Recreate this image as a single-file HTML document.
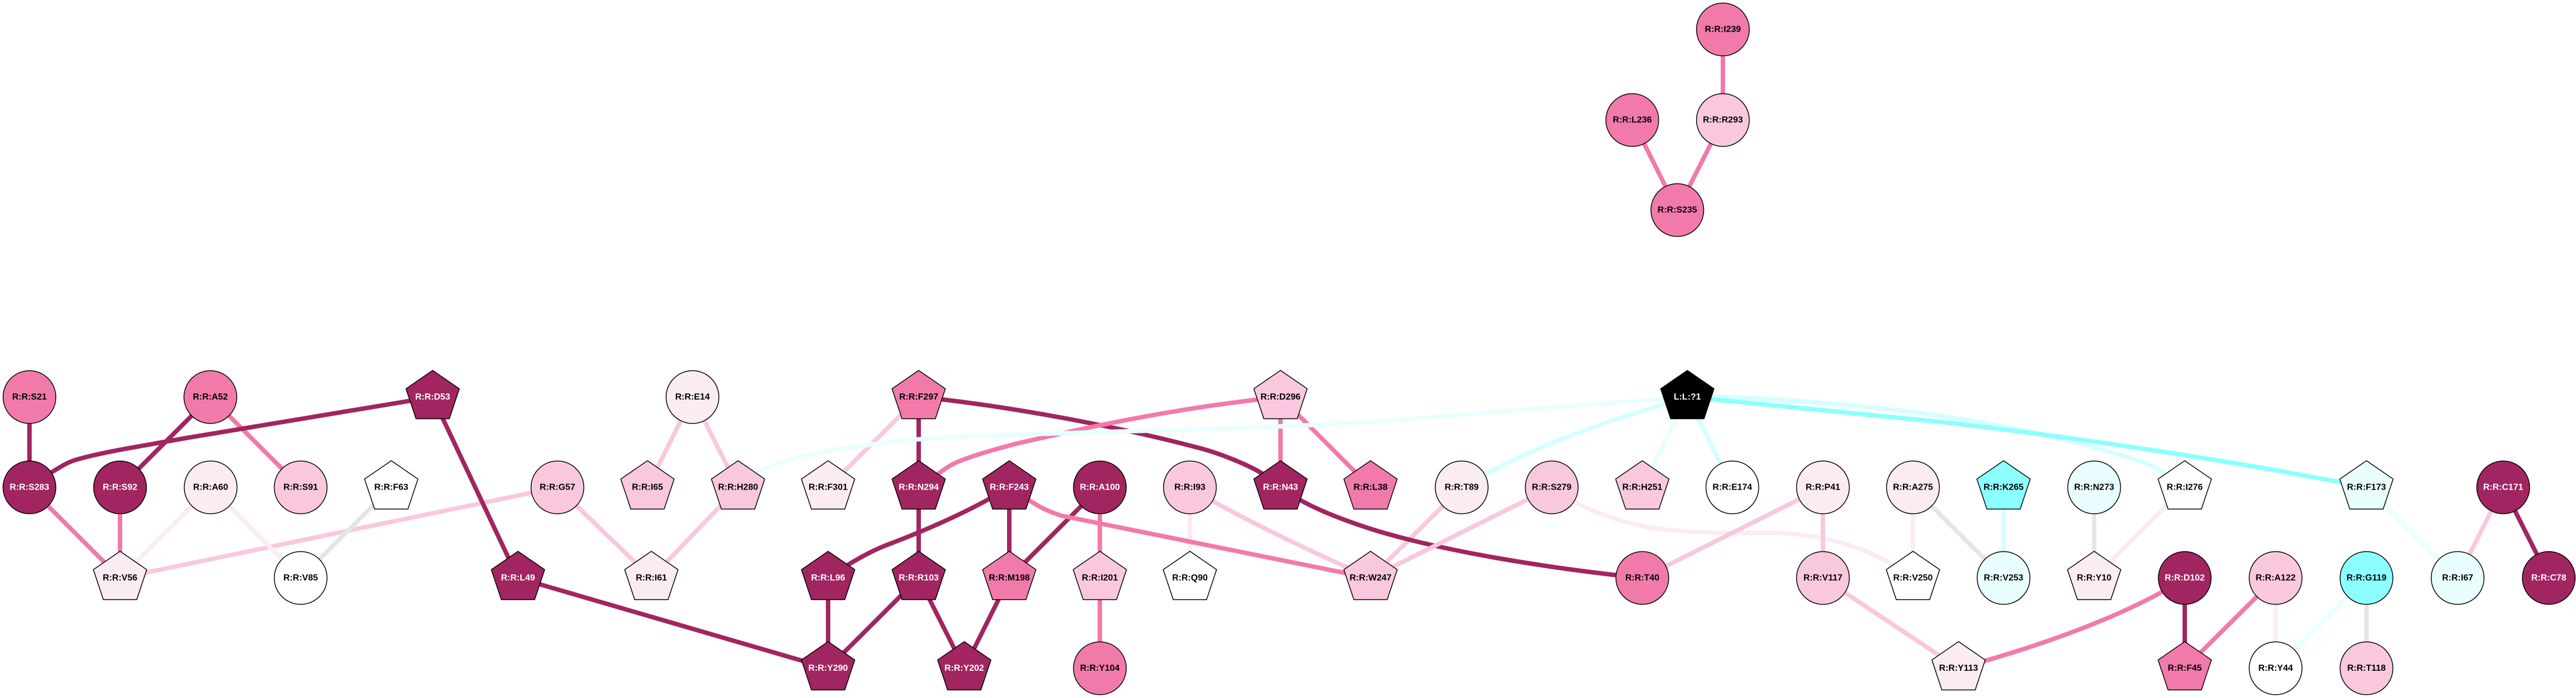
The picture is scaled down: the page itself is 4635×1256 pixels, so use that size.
<!DOCTYPE html>
<html><head><meta charset="utf-8"><title>Interaction network</title>
<style>
html,body{margin:0;padding:0;background:#fff}
svg{display:block}
text{font-family:"Liberation Sans",Arial,sans-serif;font-weight:bold;font-size:16px;text-anchor:middle;fill:#000}
text.w{fill:#fff}
.e path,.e line{fill:none;stroke-width:8;stroke-linejoin:round;stroke-linecap:butt}
.n circle,.n use{stroke:#000;stroke-width:1.5}
.D{fill:#a12560}.M{fill:#f27aab}.L{fill:#f9c8de}.V{fill:#fbebf3}.W{fill:#fff}.C{fill:#8cffff}.A{fill:#e9ffff}.B{fill:#000}
.sD{stroke:#a12560}.sM{stroke:#f27aab}.sL{stroke:#f9c8de}.sV{stroke:#fbebf3}.sG{stroke:#e5e5e5}.sC{stroke:#8cffff}.sA{stroke:#e9ffff}.sE{stroke:#d5ffff}
</style></head><body>
<svg xmlns="http://www.w3.org/2000/svg" width="4635" height="1256" viewBox="0 0 4635 1256">
<defs><polygon id="p" points="0,-48 48,-15 30,39 -30,39 -48,-15"/></defs>
<rect width="4635" height="1256" fill="#fff"/>
<g class="e">
<line class="sL" x1="2630" y1="877" x2="2466" y2="1040"/>
<line class="sL" x1="1003" y1="877" x2="216" y2="1040"/>
<line class="sV" x1="379" y1="877" x2="541" y2="1040"/>
<line class="sV" x1="379" y1="877" x2="216" y2="1040"/>
<line class="sG" x1="704" y1="877" x2="541" y2="1040"/>
<line class="sM" x1="378.5" y1="714.5" x2="541" y2="877"/>
<line class="sD" x1="53" y1="714.5" x2="53" y2="877"/>
<line class="sD" x1="378.5" y1="714.5" x2="216" y2="877"/>
<path class="sD" d="M778,714.5 L330,789 C260,802 190,812 138,827 C120,832 108,841 94,849 L53,877"/>
<line class="sM" x1="53" y1="877" x2="216" y2="1040"/>
<line class="sM" x1="216" y1="877" x2="216" y2="1040"/>
<line class="sD" x1="778.5" y1="714.5" x2="932" y2="1040"/>
<line class="sD" x1="932" y1="1040" x2="1490" y2="1202.5"/>
<line class="sL" x1="1003" y1="877" x2="1172" y2="1040"/>
<line class="sL" x1="1328" y1="877" x2="1172" y2="1040"/>
<line class="sL" x1="1246" y1="714.5" x2="1165" y2="877"/>
<line class="sL" x1="1246" y1="714.5" x2="1328" y2="877"/>
<line class="sL" x1="1653" y1="714.5" x2="1490" y2="877"/>
<line class="sD" x1="1653" y1="714.5" x2="1653" y2="877"/>
<line class="sD" x1="1653" y1="877" x2="1653" y2="1040"/>
<line class="sD" x1="1490" y1="1040" x2="1490" y2="1202.5"/>
<line class="sD" x1="1653" y1="1040" x2="1490" y2="1202.5"/>
<line class="sD" x1="1653" y1="1040" x2="1735" y2="1202.5"/>
<line class="sD" x1="1816" y1="1040" x2="1735" y2="1202.5"/>
<line class="sD" x1="1816" y1="877" x2="1816" y2="1040"/>
<line class="sD" x1="1979" y1="877" x2="1816" y2="1040"/>
<path class="sD" d="M1816,877 C1770,905 1700,941 1600,979 C1565,992 1530,1012 1490,1040"/>
<line class="sV" x1="2141" y1="877" x2="2141" y2="1040"/>
<line class="sM" x1="1979" y1="877" x2="1979" y2="1040"/>
<line class="sM" x1="1979" y1="1040" x2="1979" y2="1202.5"/>
<path class="sL" d="M2141,877 C2200,915 2320,975 2466,1040"/>
<path class="sM" d="M1816,877 L1853,901 C1870,912 1885,920 1910,928 L2420,1031 L2466,1040"/>
<path class="sD" d="M1653,714.5 L1697,719 C1850,737 2030,772 2161,807 C2195,816 2245,836 2271,852 L2304,877"/>
<path class="sD" d="M2304,877 C2340,905 2400,931 2477,955 C2600,992 2780,1022 2955,1040"/>
<line class="sM" x1="2304" y1="714.5" x2="2304" y2="877"/>
<line class="sM" x1="2304" y1="714.5" x2="2466" y2="877"/>
<path class="sM" d="M2304,714.5 L2263,719 C2100,738 1960,768 1830,798 C1780,811 1740,823 1717,834 C1705,840 1697,846 1689,852 L1653,877"/>
<line class="sL" x1="2792" y1="877" x2="2466" y2="1040"/>
<path class="sV" d="M2792,877 C2830,905 2880,930 2961,948 C3030,960 3100,959 3200,959 C3280,962 3370,985 3442,1040"/>
<line class="sL" x1="3280" y1="877" x2="2955" y2="1040"/>
<line class="sL" x1="3280" y1="877" x2="3280" y2="1040"/>
<line class="sV" x1="3442" y1="877" x2="3442" y2="1040"/>
<line class="sG" x1="3442" y1="877" x2="3605" y2="1040"/>
<line class="sE" x1="3605" y1="877" x2="3605" y2="1040"/>
<line class="sG" x1="3768" y1="877" x2="3768" y2="1040"/>
<line class="sV" x1="3931" y1="877" x2="3768" y2="1040"/>
<line class="sL" x1="3280" y1="1040" x2="3524" y2="1202.5"/>
<path class="sM" d="M3931,1040 C3850,1095 3700,1155 3524,1202.5"/>
<line class="sD" x1="3931" y1="1040" x2="3931" y2="1202.5"/>
<line class="sM" x1="4094.5" y1="1040" x2="3931" y2="1202.5"/>
<line class="sV" x1="4094.5" y1="1040" x2="4094.5" y2="1202.5"/>
<line class="sA" x1="4258" y1="1040" x2="4094.5" y2="1202.5"/>
<line class="sG" x1="4258" y1="1040" x2="4258" y2="1202.5"/>
<line class="sA" x1="4258" y1="877" x2="4422" y2="1040"/>
<line class="sL" x1="4504" y1="877" x2="4422" y2="1040"/>
<line class="sD" x1="4504" y1="877" x2="4586" y2="1040"/>
<path class="sA" d="M3036,716 C2800,730 2550,755 2400,763 C2200,773 1900,778 1700,787 C1600,793 1480,810 1430,825 C1400,833 1380,842 1361,851 L1328,877"/>
<path class="sE" d="M3036,714.5 C2900,755 2760,800 2630,877"/>
<line class="sA" x1="3036" y1="714.5" x2="2955" y2="877"/>
<line class="sE" x1="3036" y1="714.5" x2="3117" y2="877"/>
<path class="sE" d="M3036,712 C3300,720 3600,745 3863,834 C3880,841 3900,856 3931,877"/>
<path class="sC" d="M3036,714 L3500,760 C3700,783 4000,825 4258,877"/>
<line class="sM" x1="2937" y1="216" x2="3018" y2="378"/>
<line class="sM" x1="3100" y1="216" x2="3018" y2="378"/>
<line class="sM" x1="3100" y1="53" x2="3100" y2="216"/>
</g>
<g class="n">
<circle class="M" cx="3100" cy="53" r="47.5"/><circle class="M" cx="2937" cy="216" r="47.5"/><circle class="L" cx="3100" cy="216" r="47.5"/><circle class="M" cx="3018" cy="378" r="47.5"/>
<circle class="M" cx="53" cy="714.5" r="47.5"/><circle class="M" cx="378.5" cy="714.5" r="47.5"/><use href="#p" class="D" x="778.5" y="714.5"/><circle class="V" cx="1246" cy="714.5" r="47.5"/><use href="#p" class="M" x="1653" y="714.5"/><use href="#p" class="L" x="2304" y="714.5"/><use href="#p" class="B" x="3036" y="714.5"/>
<circle class="D" cx="53" cy="877" r="47.5"/><circle class="D" cx="216" cy="877" r="47.5"/><circle class="V" cx="379" cy="877" r="47.5"/><circle class="L" cx="541" cy="877" r="47.5"/><use href="#p" class="W" x="704" y="877"/><circle class="L" cx="1003" cy="877" r="47.5"/><use href="#p" class="L" x="1165" y="877"/><use href="#p" class="L" x="1328" y="877"/><use href="#p" class="V" x="1490" y="877"/><use href="#p" class="D" x="1653" y="877"/><use href="#p" class="D" x="1816" y="877"/><circle class="D" cx="1979" cy="877" r="47.5"/><circle class="L" cx="2141" cy="877" r="47.5"/><use href="#p" class="D" x="2304" y="877"/><use href="#p" class="M" x="2466" y="877"/><circle class="V" cx="2630" cy="877" r="47.5"/><circle class="L" cx="2792" cy="877" r="47.5"/><use href="#p" class="L" x="2955" y="877"/><circle class="W" cx="3117" cy="877" r="47.5"/><circle class="V" cx="3280" cy="877" r="47.5"/><circle class="V" cx="3442" cy="877" r="47.5"/><use href="#p" class="C" x="3605" y="877"/><circle class="A" cx="3768" cy="877" r="47.5"/><use href="#p" class="W" x="3931" y="877"/><use href="#p" class="A" x="4258" y="877"/><circle class="D" cx="4504" cy="877" r="47.5"/>
<use href="#p" class="V" x="216" y="1040"/><circle class="W" cx="541" cy="1040" r="47.5"/><use href="#p" class="D" x="932" y="1040"/><use href="#p" class="V" x="1172" y="1040"/><use href="#p" class="D" x="1490" y="1040"/><use href="#p" class="D" x="1653" y="1040"/><use href="#p" class="M" x="1816" y="1040"/><use href="#p" class="L" x="1979" y="1040"/><use href="#p" class="W" x="2141" y="1040"/><use href="#p" class="L" x="2466" y="1040"/><circle class="M" cx="2955" cy="1040" r="47.5"/><circle class="L" cx="3280" cy="1040" r="47.5"/><use href="#p" class="W" x="3442" y="1040"/><circle class="A" cx="3605" cy="1040" r="47.5"/><use href="#p" class="V" x="3768" y="1040"/><circle class="D" cx="3931" cy="1040" r="47.5"/><circle class="L" cx="4094.5" cy="1040" r="47.5"/><circle class="C" cx="4258" cy="1040" r="47.5"/><circle class="A" cx="4422" cy="1040" r="47.5"/><circle class="D" cx="4586" cy="1040" r="47.5"/>
<use href="#p" class="D" x="1490" y="1202.5"/><use href="#p" class="D" x="1735" y="1202.5"/><circle class="M" cx="1979" cy="1202.5" r="47.5"/><use href="#p" class="V" x="3524" y="1202.5"/><use href="#p" class="M" x="3931" y="1202.5"/><circle class="W" cx="4094.5" cy="1202.5" r="47.5"/><circle class="L" cx="4258" cy="1202.5" r="47.5"/>
</g>
<g>
<text x="3100" y="57.5">R:R:I239</text><text x="2937" y="220.5">R:R:L236</text><text x="3100" y="220.5">R:R:R293</text><text x="3018" y="382.5">R:R:S235</text>
<text x="53" y="719">R:R:S21</text><text x="378.5" y="719">R:R:A52</text><text class="w" x="778.5" y="719">R:R:D53</text><text x="1246" y="719">R:R:E14</text><text x="1653" y="719">R:R:F297</text><text x="2304" y="719">R:R:D296</text><text class="w" x="3036" y="719">L:L:?1</text>
<text class="w" x="53" y="881.5">R:R:S283</text><text class="w" x="216" y="881.5">R:R:S92</text><text x="379" y="881.5">R:R:A60</text><text x="541" y="881.5">R:R:S91</text><text x="704" y="881.5">R:R:F63</text><text x="1003" y="881.5">R:R:G57</text><text x="1165" y="881.5">R:R:I65</text><text x="1328" y="881.5">R:R:H280</text><text x="1490" y="881.5">R:R:F301</text><text class="w" x="1653" y="881.5">R:R:N294</text><text class="w" x="1816" y="881.5">R:R:F243</text><text class="w" x="1979" y="881.5">R:R:A100</text><text x="2141" y="881.5">R:R:I93</text><text class="w" x="2304" y="881.5">R:R:N43</text><text x="2466" y="881.5">R:R:L38</text><text x="2630" y="881.5">R:R:T89</text><text x="2792" y="881.5">R:R:S279</text><text x="2955" y="881.5">R:R:H251</text><text x="3117" y="881.5">R:R:E174</text><text x="3280" y="881.5">R:R:P41</text><text x="3442" y="881.5">R:R:A275</text><text x="3605" y="881.5">R:R:K265</text><text x="3768" y="881.5">R:R:N273</text><text x="3931" y="881.5">R:R:I276</text><text x="4258" y="881.5">R:R:F173</text><text class="w" x="4504" y="881.5">R:R:C171</text>
<text x="216" y="1044.5">R:R:V56</text><text x="541" y="1044.5">R:R:V85</text><text class="w" x="932" y="1044.5">R:R:L49</text><text x="1172" y="1044.5">R:R:I61</text><text class="w" x="1490" y="1044.5">R:R:L96</text><text class="w" x="1653" y="1044.5">R:R:R103</text><text x="1816" y="1044.5">R:R:M198</text><text x="1979" y="1044.5">R:R:I201</text><text x="2141" y="1044.5">R:R:Q90</text><text x="2466" y="1044.5">R:R:W247</text><text x="2955" y="1044.5">R:R:T40</text><text x="3280" y="1044.5">R:R:V117</text><text x="3442" y="1044.5">R:R:V250</text><text x="3605" y="1044.5">R:R:V253</text><text x="3768" y="1044.5">R:R:Y10</text><text class="w" x="3931" y="1044.5">R:R:D102</text><text x="4094.5" y="1044.5">R:R:A122</text><text x="4258" y="1044.5">R:R:G119</text><text x="4422" y="1044.5">R:R:I67</text><text class="w" x="4586" y="1044.5">R:R:C78</text>
<text class="w" x="1490" y="1207">R:R:Y290</text><text class="w" x="1735" y="1207">R:R:Y202</text><text x="1979" y="1207">R:R:Y104</text><text x="3524" y="1207">R:R:Y113</text><text x="3931" y="1207">R:R:F45</text><text x="4094.5" y="1207">R:R:Y44</text><text x="4258" y="1207">R:R:T118</text>
</g>
</svg>
</body></html>
